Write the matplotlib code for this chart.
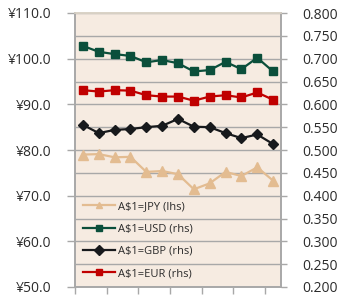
import matplotlib
matplotlib.use("Agg")
import matplotlib.pyplot as plt
import numpy as np

plt.rcParams['font.family'] = ['Open Sans', 'DejaVu Sans']

# Data
periods = list(range(13))
jpy = [79.0, 79.1, 78.4, 78.5, 75.2, 75.4, 74.7, 71.4, 72.7, 75.2, 74.3, 76.2, 73.3]
usd = [0.728, 0.715, 0.710, 0.706, 0.692, 0.697, 0.690, 0.672, 0.675, 0.693, 0.677, 0.702, 0.672]
gbp = [0.555, 0.537, 0.544, 0.546, 0.550, 0.553, 0.568, 0.551, 0.550, 0.537, 0.526, 0.534, 0.513]
eur = [0.631, 0.628, 0.631, 0.630, 0.620, 0.617, 0.617, 0.608, 0.617, 0.620, 0.615, 0.626, 0.610]

left_ticks = [50, 60, 70, 80, 90, 100, 110]
left_labels = ["¥50.0", "¥60.0", "¥70.0", "¥80.0", "¥90.0", "¥100.0", "¥110.0"]
right_ticks = [0.20, 0.25, 0.30, 0.35, 0.40, 0.45, 0.50, 0.55, 0.60, 0.65, 0.70, 0.75, 0.80]
right_labels = ["0.200", "0.250", "0.300", "0.350", "0.400", "0.450", "0.500",
                "0.550", "0.600", "0.650", "0.700", "0.750", "0.800"]
series_labels = ["A$1=JPY (lhs)", "A$1=USD (rhs)", "A$1=GBP (rhs)", "A$1=EUR (rhs)"]

c_jpy = "#E3BC91"
c_usd = "#0B4F3B"
c_gbp = "#17191C"
c_eur = "#C00000"
bg = "#F6EBE1"
grid_c = "#A8A8A8"
txt_c = "#2B2B2B"

fig = plt.figure(figsize=(3.48, 2.97), dpi=100)
ax = fig.add_axes([75/348, 1-287/297, 206/348, 274/297])
ax2 = ax.twinx()
ax.set_facecolor(bg)

ax.set_xlim(-0.5, 12.5)
ax.set_ylim(50, 110)
ax2.set_ylim(0.2, 0.8)

ax2.set_yticks(right_ticks)
ax2.set_yticklabels(right_labels)
ax.set_yticks(left_ticks)
ax.set_yticklabels(left_labels)
ax.set_xticks(np.arange(-0.5, 12, 2))
ax.set_xticklabels([])

# gridlines at right-axis ticks, drawn on ax (behind)
for t in right_ticks:
    y = 50 + (t - 0.2) / 0.6 * 60
    ax.axhline(y, color=grid_c, lw=1.0, zorder=0.5)

ax.tick_params(axis='y', length=6, width=1, color=grid_c, labelsize=10, labelcolor=txt_c, pad=11)
ax.tick_params(axis='x', length=5, width=1, color=grid_c, direction='out')
ax2.tick_params(axis='y', length=4, width=1, color=grid_c, labelsize=10, labelcolor=txt_c, pad=11)

for a in (ax, ax2):
    a.spines['left'].set_color(grid_c)
    a.spines['right'].set_color(grid_c)
    a.spines['bottom'].set_color(grid_c)
    a.spines['top'].set_color("#D9D2C6")
    for s in a.spines.values():
        s.set_linewidth(1.2)

h1, = ax.plot(periods, jpy, color=c_jpy, lw=1.6, marker='^', ms=6.5, zorder=3, label=series_labels[0])
h2, = ax2.plot(periods, usd, color=c_usd, lw=1.6, marker='s', ms=6, zorder=3, label=series_labels[1])
h3, = ax2.plot(periods, gbp, color=c_gbp, lw=1.6, marker='D', ms=5, zorder=3, label=series_labels[2])
h4, = ax2.plot(periods, eur, color=c_eur, lw=1.6, marker='s', ms=6, zorder=3, label=series_labels[3])

leg = ax2.legend(handles=[h1, h2, h3, h4], loc='lower left', bbox_to_anchor=(0.0, 0.0),
                 frameon=False, fontsize=8, handlelength=2.9, handletextpad=0.3,
                 labelspacing=1.02, borderaxespad=0.3, labelcolor=txt_c)
for lh in leg.legend_handles:
    lh.set_markersize(5)

fig.savefig("out.png", dpi=100, facecolor="white")
